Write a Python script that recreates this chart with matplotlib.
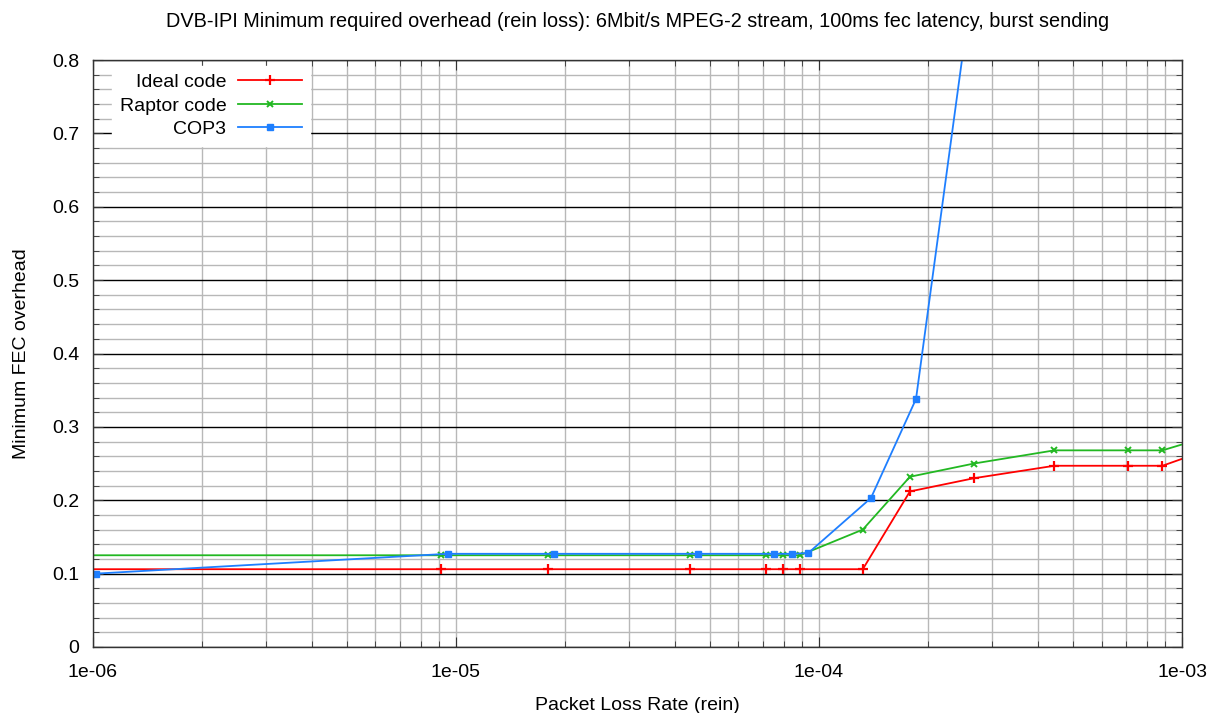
import matplotlib.pyplot as plt
from matplotlib.ticker import FixedLocator, MultipleLocator, NullFormatter, FuncFormatter

plt.rcParams['font.family'] = ['Liberation Sans', 'DejaVu Sans']

# packet loss rates and overheads
ideal_x = [9.1e-7, 9.1e-6, 1.79e-5, 4.41e-5, 7.13e-5, 7.96e-5, 8.87e-5,
           1.32e-4, 1.78e-4, 2.67e-4, 4.45e-4, 7.11e-4, 8.83e-4, 1.15e-3]
ideal_y = [0.106, 0.106, 0.106, 0.106, 0.106, 0.106, 0.106,
           0.106, 0.212, 0.230, 0.247, 0.247, 0.247, 0.267]

raptor_x = ideal_x
raptor_y = [0.125, 0.125, 0.125, 0.125, 0.125, 0.125, 0.125,
            0.160, 0.232, 0.250, 0.268, 0.268, 0.268, 0.285]

cop3_x = [1.02e-6, 9.48e-6, 1.86e-5, 4.65e-5, 7.52e-5, 8.43e-5, 9.34e-5,
          1.39e-4, 1.85e-4, 2.8e-4]
cop3_y = [0.100, 0.127, 0.127, 0.127, 0.127, 0.127, 0.128,
          0.203, 0.338, 0.995]

xticks = [1e-6, 1e-5, 1e-4, 1e-3]
xlabels = ['1e-06', '1e-05', '1e-04', '1e-03']

fs = 14

fig = plt.figure(figsize=(12.09, 7.13), dpi=100)
ax = fig.add_axes([0.0769, 0.0926, 0.9008, 0.8232])

ax.plot(ideal_x, ideal_y, color='#ff0000', lw=1.3, marker='+', ms=7, mew=1.6,
        label='Ideal code')
ax.plot(raptor_x, raptor_y, color='#22b822', lw=1.3, marker='x', ms=5, mew=1.4,
        label='Raptor code')
ax.plot(cop3_x, cop3_y, color='#1e7fff', lw=1.3, marker='s', ms=4.5,
        label='COP3')

ax.set_xscale('log')
ax.set_xlim(1e-6, 1e-3)
ax.set_ylim(0, 0.8)

ax.xaxis.set_major_locator(FixedLocator(xticks))
ax.set_xticklabels(xlabels)
minors = [m * d for d in [1e-6, 1e-5, 1e-4] for m in range(2, 10)]
ax.xaxis.set_minor_locator(FixedLocator(minors))
ax.xaxis.set_minor_formatter(NullFormatter())
ax.yaxis.set_major_locator(MultipleLocator(0.1))
ax.yaxis.set_minor_locator(MultipleLocator(0.02))
ax.yaxis.set_major_formatter(FuncFormatter(lambda v, p: '0' if abs(v) < 1e-9 else '%.1f' % v))

ax.grid(True, which='major', axis='y', color='#000000', lw=1.0)
ax.grid(True, which='minor', axis='y', color='#b8b8b8', lw=1.0)
ax.grid(True, which='both', axis='x', color='#b8b8b8', lw=1.0)
ax.set_axisbelow(True)

ax.tick_params(which='both', direction='in', top=True, right=True,
               labelsize=fs, color='#333333')
ax.tick_params(which='major', length=7, pad=10)
ax.tick_params(which='major', axis='x', pad=12)
ax.tick_params(which='minor', length=4)
for s in ax.spines.values():
    s.set_linewidth(1.0)
    s.set_color('#333333')

ax.set_title('DVB-IPI Minimum required overhead (rein loss): 6Mbit/s MPEG-2 stream, '
             '100ms fec latency, burst sending', fontsize=14.3, pad=24)
ax.set_xlabel('Packet Loss Rate (rein)', fontsize=fs, labelpad=12)
ax.set_ylabel('Minimum FEC overhead', fontsize=fs, labelpad=16)

leg = ax.legend(loc='upper left', markerfirst=False, frameon=True, fontsize=fs,
                handlelength=3.3, handletextpad=0.6, borderaxespad=0.3,
                labelspacing=0.3, fancybox=False, edgecolor='white',
                framealpha=1.0, bbox_to_anchor=(0.012, 1.0))
for t in leg.get_texts():
    t.set_ha('right')

fig.savefig('out.png', dpi=100)
